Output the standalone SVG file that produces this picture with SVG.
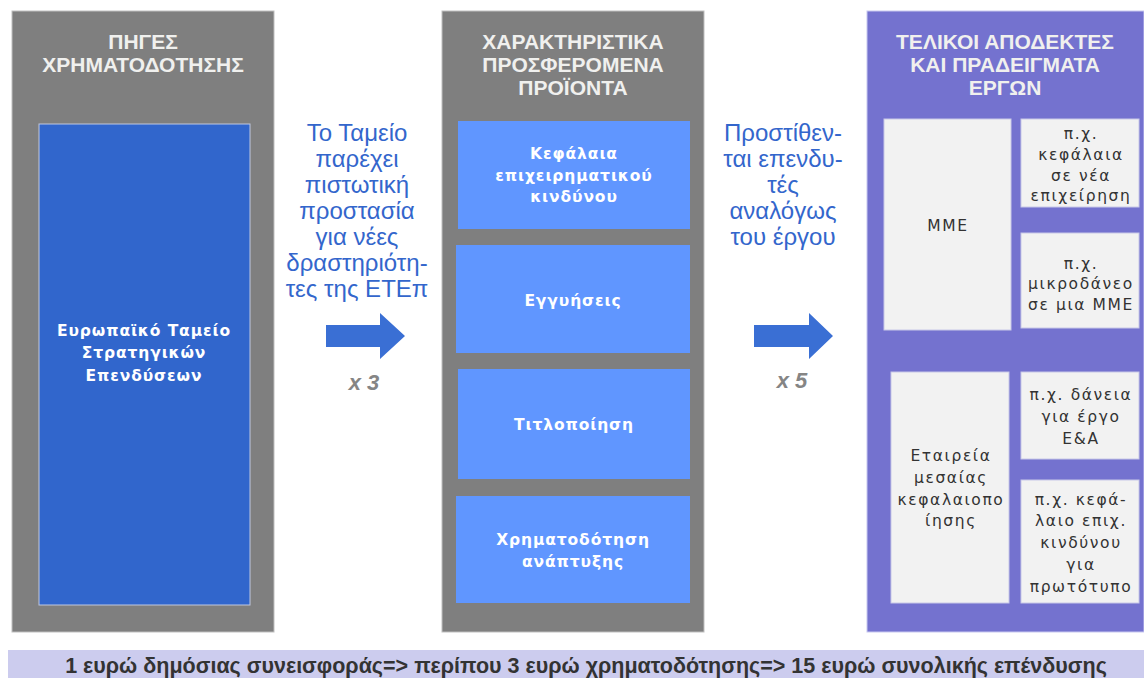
<svg xmlns="http://www.w3.org/2000/svg" width="1144" height="678" viewBox="0 0 1144 678">
<defs>
<style>
.gray{fill:#7f7f7f;stroke:#bfbfbf;stroke-width:1}
.title{font-family:"Liberation Sans",Arial,sans-serif;font-weight:bold;font-size:21px;fill:#f0f0ee;text-anchor:middle}
.prod{fill:#6096ff}
.ptxt{font-family:"DejaVu Sans",Verdana,sans-serif;font-weight:bold;font-size:15.5px;fill:#ffffff;text-anchor:middle;letter-spacing:0.9px}
.wbox{fill:#f2f2f2;stroke:#c8c8e8;stroke-width:1}
.wtxt{font-family:"DejaVu Sans",Verdana,sans-serif;font-size:15.5px;fill:#333333;text-anchor:middle;letter-spacing:1.6px}
.side{font-family:"Liberation Sans",Arial,sans-serif;font-size:24px;fill:#3366cc;text-anchor:middle}
.mult{font-family:"Liberation Sans",Arial,sans-serif;font-weight:bold;font-style:italic;font-size:22px;fill:#858585;text-anchor:middle}
.arrow{fill:#3a6fd4}
</style>
</defs>
<rect width="1144" height="678" fill="#ffffff"/>

<g id="sources">
<rect class="gray" x="12" y="11" width="262" height="621"/>
<text class="title" x="143" y="49">ΠΗΓΕΣ</text>
<text class="title" x="143" y="72">ΧΡΗΜΑΤΟΔΟΤΗΣΗΣ</text>
</g>
<g id="efsi">
<rect x="39" y="124" width="211" height="481" fill="#3166cc" stroke="#c0c8e0" stroke-width="1"/>
<text class="ptxt" x="144" y="336">Ευρωπαϊκό  Ταμείο</text>
<text class="ptxt" x="144" y="358">Στρατηγικών</text>
<text class="ptxt" x="144" y="381">Επενδύσεων</text>
</g>

<g id="products">
<rect class="gray" x="442" y="11" width="262" height="621"/>
<text class="title" x="573" y="49">ΧΑΡΑΚΤΗΡΙΣΤΙΚΑ</text>
<text class="title" x="573" y="72">ΠΡΟΣΦΕΡΟΜΕΝΑ</text>
<text class="title" x="573" y="95">ΠΡΟΪΟΝΤΑ</text>
</g>
<g id="venture">
<rect class="prod" x="458" y="121" width="232" height="108"/>
<text class="ptxt" x="574" y="159">Κεφάλαια</text>
<text class="ptxt" x="574" y="181">επιχειρηματικού</text>
<text class="ptxt" x="574" y="202">κινδύνου</text>
</g>
<g id="guarantees">
<rect class="prod" x="456" y="245" width="234" height="108"/>
<text class="ptxt" x="573" y="306">Εγγυήσεις</text>
</g>
<g id="securitisation">
<rect class="prod" x="458" y="369" width="232" height="110"/>
<text class="ptxt" x="574" y="430">Τιτλοποίηση</text>
</g>
<g id="growth">
<rect class="prod" x="456" y="496" width="234" height="107"/>
<text class="ptxt" x="573" y="545">Χρηματοδότηση</text>
<text class="ptxt" x="573" y="567">ανάπτυξης</text>
</g>

<g id="recipients">
<rect x="867" y="11" width="277" height="621" fill="#7472cf" stroke="#c8c8f0" stroke-width="1"/>
<text class="title" x="1005" y="49">ΤΕΛΙΚΟΙ ΑΠΟΔΕΚΤΕΣ</text>
<text class="title" x="1005" y="72">ΚΑΙ ΠΡΑΔΕΙΓΜΑΤΑ</text>
<text class="title" x="1005" y="95">ΕΡΓΩΝ</text>
</g>
<g id="sme">
<rect class="wbox" x="884" y="119" width="127" height="211"/>
<text class="wtxt" x="948" y="231">ΜΜΕ</text>
</g>
<g id="ex1">
<rect class="wbox" x="1021" y="119" width="118" height="88"/>
<text class="wtxt" x="1081" y="139">π.χ.</text>
<text class="wtxt" x="1081" y="160">κεφάλαια</text>
<text class="wtxt" x="1081" y="181">σε νέα</text>
<text class="wtxt" x="1081" y="201">επιχείρηση</text>
</g>
<g id="ex2">
<rect class="wbox" x="1021" y="233" width="118" height="95"/>
<text class="wtxt" x="1081" y="269">π.χ.</text>
<text class="wtxt" x="1081" y="289">μικροδάνεο</text>
<text class="wtxt" x="1081" y="310">σε μια ΜΜΕ</text>
</g>
<g id="midcap">
<rect class="wbox" x="891" y="372" width="118" height="231"/>
<text class="wtxt" x="951" y="461">Εταιρεία</text>
<text class="wtxt" x="951" y="483">μεσαίας</text>
<text class="wtxt" x="951" y="505">κεφαλαιοπο</text>
<text class="wtxt" x="951" y="526">ίησης</text>
</g>
<g id="ex3">
<rect class="wbox" x="1021" y="372" width="118" height="87"/>
<text class="wtxt" x="1081" y="400">π.χ. δάνεια</text>
<text class="wtxt" x="1081" y="422">για  έργο</text>
<text class="wtxt" x="1081" y="444">Ε&amp;Α</text>
</g>
<g id="ex4">
<rect class="wbox" x="1021" y="480" width="118" height="123"/>
<text class="wtxt" x="1081" y="505">π.χ. κεφά-</text>
<text class="wtxt" x="1081" y="526">λαιο επιχ.</text>
<text class="wtxt" x="1081" y="548">κινδύνου</text>
<text class="wtxt" x="1081" y="570">για</text>
<text class="wtxt" x="1081" y="592">πρωτότυπο</text>
</g>

<g id="connectors">
<g id="arrow1">
<path class="arrow" d="M326,325 H380 V313 L405,336 L380,359 V347 H326 Z"/>
<text class="side" x="357" y="141">Το Ταμείο</text>
<text class="side" x="357" y="167">παρέχει</text>
<text class="side" x="357" y="193">πιστωτική</text>
<text class="side" x="357" y="219">προστασία</text>
<text class="side" x="357" y="245">για νέες</text>
<text class="side" x="357" y="271">δραστηριότη-</text>
<text class="side" x="357" y="297">τες της ΕΤΕπ</text>
<text class="mult" x="364" y="390">x 3</text>
</g>
<g id="arrow2">
<path class="arrow" d="M754,325 H809 V313 L833,336 L809,359 V347 H754 Z"/>
<text class="side" x="783" y="141">Προστίθεν-</text>
<text class="side" x="783" y="167">ται επενδυ-</text>
<text class="side" x="783" y="193">τές</text>
<text class="side" x="783" y="219">αναλόγως</text>
<text class="side" x="783" y="245">του έργου</text>
<text class="mult" x="792" y="388">x 5</text>
</g>
</g>

<g id="summary">
<rect x="8" y="650" width="1136" height="28" fill="#ccccee"/>
<text x="586" y="673" font-family="Liberation Sans, Arial, sans-serif" font-weight="bold" font-size="21.5" fill="#333333" text-anchor="middle">1 ευρώ δημόσιας συνεισφοράς=&gt; περίπου 3 ευρώ χρηματοδότησης=&gt; 15 ευρώ συνολικής επένδυσης</text>
</g>
</svg>
